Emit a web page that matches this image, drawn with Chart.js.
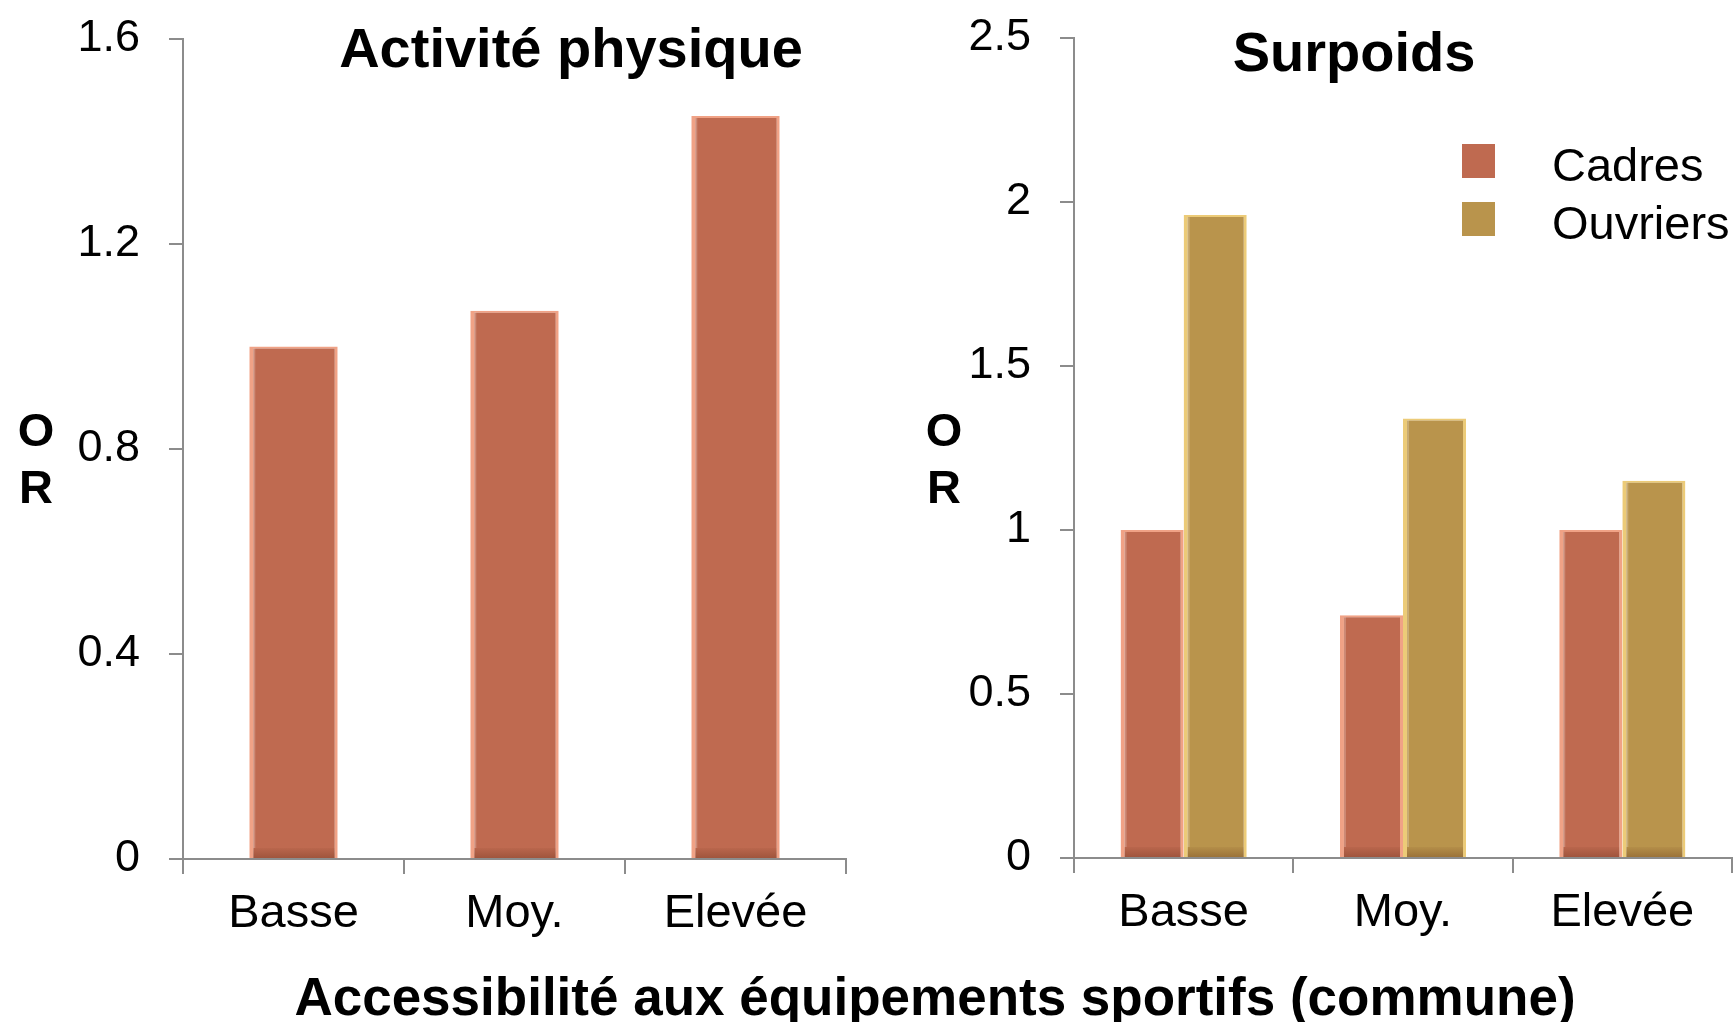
<!DOCTYPE html>
<html>
<head>
<meta charset="utf-8">
<script src="https://cdn.jsdelivr.net/npm/chart.js@4.4.1/dist/chart.umd.min.js"></script>
<style>
    html, body { margin: 0; padding: 0; background: #fff; overflow: hidden; }
    #page { position: relative; width: 1734px; height: 1022px; }
    canvas { position: absolute; top: 0; }
    #activite { left: 0; }
    #surpoids { left: 880px; }
    #xtitle {
        position: absolute; left: 935px; top: 966px; transform: translateX(-50%);
        white-space: nowrap; line-height: 1; color: #000;
        font: bold 53px 'Liberation Sans', Arial, sans-serif;
    }
</style>
</head>
<body>
<div id="page">
    <canvas id="activite" width="880" height="960"></canvas>
    <canvas id="surpoids" width="854" height="960"></canvas>
    <div id="xtitle">Accessibilité aux équipements sportifs (commune)</div>
</div>
<script>
const categories = ['Basse', 'Moy.', 'Elevée'];
const seriesNames = ['Cadres', 'Ouvriers'];
const activiteCadres = [1.00, 1.07, 1.45];
const surpoidsCadres = [1.00, 0.74, 1.00];
const surpoidsOuvriers = [1.96, 1.34, 1.15];
const activiteTicks = [0, 0.4, 0.8, 1.2, 1.6];
const surpoidsTicks = [0, 0.5, 1, 1.5, 2, 2.5];

const FONT = "'Liberation Sans', Arial, sans-serif";
const AXIS_GREY = '#8c8c8c';
const RUST = { fill: '#bf6a50', edge: '#f0a286' };
const GOLD = { fill: '#b9944c', edge: '#eccb78' };

Chart.defaults.font.family = FONT;
Chart.defaults.color = '#000';

// titles, the stacked "O R" label, an inside legend and a soft bevel on the bars
const decor = {
    id: 'decor',
    afterDatasetsDraw(chart) {
        const ctx = chart.ctx;
        ctx.save();
        chart.data.datasets.forEach((ds, i) => {
            chart.getDatasetMeta(i).data.forEach((bar) => {
                const { x, y, base, width } = bar.getProps(['x', 'y', 'base', 'width'], true);
                const left = x - width / 2;
                const grad = ctx.createLinearGradient(0, base - 10, 0, base);
                grad.addColorStop(0, 'rgba(80,30,10,0.05)');
                grad.addColorStop(1, 'rgba(80,30,10,0.28)');
                ctx.fillStyle = grad;
                ctx.fillRect(left + 4, base - 10, width - 7, 10);
                ctx.fillStyle = 'rgba(255,255,255,0.22)';
                ctx.fillRect(left + 4, y + 2, 2, base - y - 12);
            });
        });
        ctx.restore();
    },
    afterDraw(chart, args, opts) {
        const ctx = chart.ctx;
        ctx.save();
        ctx.fillStyle = '#000';
        ctx.textAlign = 'center';
        ctx.textBaseline = 'alphabetic';
        ctx.font = 'bold 56px ' + FONT;
        ctx.fillText(opts.title, opts.titleX, opts.titleY);
        ctx.font = 'bold 47px ' + FONT;
        ctx.fillText('O', opts.sideX, 446);
        ctx.fillText('R', opts.sideX, 503);
        if (opts.legend) {
            ctx.textAlign = 'left';
            ctx.font = '47px ' + FONT;
            chart.data.datasets.forEach((ds, i) => {
                const top = opts.legend.y + i * 58;
                ctx.fillStyle = ds.legendColor;
                ctx.fillRect(opts.legend.x, top, 33, 34);
                ctx.fillStyle = '#000';
                ctx.fillText(ds.label, opts.legend.x + 90, top + 37);
            });
        }
        ctx.restore();
    },
};

function barDataset(label, values, colors) {
    return {
        label: label,
        data: values,
        backgroundColor: colors.fill,
        legendColor: colors.fill,
        borderColor: colors.edge,
        borderWidth: { left: 4, right: 3, top: 2, bottom: 0 },
        borderSkipped: false,
    };
}

function noPadding(s) {
    s.paddingTop = 0;
    s.paddingBottom = 0;
    s.paddingLeft = 0;
    s.paddingRight = 0;
}

function makeOptions(cfg) {
    return {
        responsive: false,
        animation: false,
        layout: { padding: { top: cfg.top, right: cfg.right, bottom: 0, left: 0 } },
        plugins: {
            legend: { display: false },
            tooltip: { enabled: false },
            decor: cfg.decor,
        },
        scales: {
            x: {
                afterFit: (s) => { s.height = 960 - cfg.bottom; noPadding(s); },
                grid: {
                    offset: true, drawOnChartArea: false, drawTicks: true,
                    tickLength: 15, color: AXIS_GREY, lineWidth: 2,
                },
                border: { display: true, color: AXIS_GREY, width: 2 },
                ticks: { font: { size: 47 }, padding: 12, color: '#000' },
            },
            y: {
                min: 0,
                max: cfg.ticks[cfg.ticks.length - 1],
                afterFit: (s) => { s.width = cfg.axisX; noPadding(s); },
                afterBuildTicks: (s) => { s.ticks = cfg.ticks.map((v) => ({ value: v })); },
                grid: {
                    drawOnChartArea: false, drawTicks: true,
                    tickLength: 14, color: AXIS_GREY, lineWidth: 2,
                },
                border: { display: true, color: AXIS_GREY, width: 2 },
                ticks: {
                    font: { size: 45 }, padding: 29, color: '#000',
                    callback: (v) => String(v),
                },
            },
        },
        datasets: { bar: cfg.bar },
    };
}

new Chart(document.getElementById('activite'), {
    type: 'bar',
    data: {
        labels: categories,
        datasets: [barDataset(seriesNames[0], activiteCadres, RUST)],
    },
    options: makeOptions({
        top: 39, bottom: 859, right: 34, axisX: 183, ticks: activiteTicks,
        bar: { categoryPercentage: 1, barPercentage: 0.40 },
        decor: { title: 'Activité physique', titleX: 571, titleY: 67, sideX: 36 },
    }),
    plugins: [decor],
});

new Chart(document.getElementById('surpoids'), {
    type: 'bar',
    data: {
        labels: categories,
        datasets: [
            barDataset(seriesNames[0], surpoidsCadres, RUST),
            barDataset(seriesNames[1], surpoidsOuvriers, GOLD),
        ],
    },
    options: makeOptions({
        top: 38, bottom: 858, right: 2, axisX: 194, ticks: surpoidsTicks,
        bar: { categoryPercentage: 0.575, barPercentage: 1 },
        decor: {
            title: 'Surpoids', titleX: 474, titleY: 71, sideX: 64,
            legend: { x: 582, y: 144 },
        },
    }),
    plugins: [decor],
});
</script>
</body>
</html>
